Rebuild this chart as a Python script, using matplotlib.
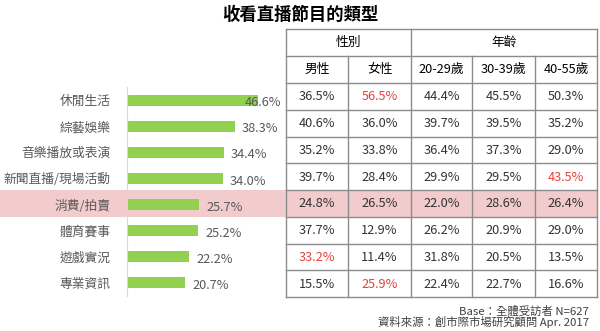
import matplotlib
matplotlib.use("Agg")
import matplotlib.pyplot as plt
from matplotlib.patches import Rectangle

plt.rcParams['font.family'] = ['Noto Sans CJK TC', 'DejaVu Sans']

# data
categories = ["休閒生活", "綜藝娛樂", "音樂播放或表演", "新聞直播/現場活動",
              "消費/拍賣", "體育賽事", "遊戲實況", "專業資訊"]
overall = [46.6, 38.3, 34.4, 34.0, 25.7, 25.2, 22.2, 20.7]
group_labels = ["性別", "年齡"]
col_labels = ["男性", "女性", "20-29歲", "30-39歲", "40-55歲"]
male = [36.5, 40.6, 35.2, 39.7, 24.8, 37.7, 33.2, 15.5]
female = [56.5, 36.0, 33.8, 28.4, 26.5, 12.9, 11.4, 25.9]
age_20_29 = [44.4, 39.7, 36.4, 29.9, 22.0, 26.2, 31.8, 22.4]
age_30_39 = [45.5, 39.5, 37.3, 29.5, 28.6, 20.9, 20.5, 22.7]
age_40_55 = [50.3, 35.2, 29.0, 43.5, 26.4, 29.0, 13.5, 16.6]
# cells shown in red: (row, col)
red_cells = [(0, 1), (3, 4), (6, 0), (7, 1)]
highlight_row = 4

W, H = 600, 331
GRAY = "#595959"
RED = "#E8403A"
GREEN = "#92D050"
PINK = "#F2CBCC"
LINE = "#8C8C8C"

fig = plt.figure(figsize=(W / 100, H / 100), dpi=100)
fig.patch.set_facecolor("white")

# overlay axes in pixel coordinates
ov = fig.add_axes([0, 0, 1, 1], zorder=0)
ov.set_xlim(0, W)
ov.set_ylim(H, 0)
ov.axis("off")

ov.text(300, 15, "收看直播節目的類型", ha="center", va="center",
        fontsize=12.5, fontweight="bold", color="black")

# table geometry
col_x = [286, 348, 411, 472, 535, 597]
row_y = [29, 56, 83, 109.8, 136.5, 163.3, 190, 216.8, 243.5, 270.3, 297]

# highlight band
ov.add_patch(Rectangle((0, row_y[2 + highlight_row]), col_x[-1],
                       row_y[3 + highlight_row] - row_y[2 + highlight_row],
                       facecolor=PINK, edgecolor="none", zorder=0))

# table grid
lw = 1.0
for y in row_y:
    x0 = col_x[0]
    ov.plot([x0, col_x[-1]], [y, y], color=LINE, lw=lw, zorder=2)
for i, x in enumerate(col_x):
    y0 = row_y[1] if i in (1, 3, 4) else row_y[0]
    ov.plot([x, x], [y0, row_y[-1]], color=LINE, lw=lw, zorder=2)

fs = 9.2
ov.text((col_x[0] + col_x[2]) / 2, (row_y[0] + row_y[1]) / 2, group_labels[0],
        ha="center", va="center", fontsize=fs, color="black")
ov.text((col_x[2] + col_x[5]) / 2, (row_y[0] + row_y[1]) / 2, group_labels[1],
        ha="center", va="center", fontsize=fs, color="black")
for j, lab in enumerate(col_labels):
    ov.text((col_x[j] + col_x[j + 1]) / 2, (row_y[1] + row_y[2]) / 2, lab,
            ha="center", va="center", fontsize=fs, color="black")

columns = [male, female, age_20_29, age_30_39, age_40_55]
for j, col in enumerate(columns):
    for i, v in enumerate(col):
        c = RED if (i, j) in red_cells else "#333333"
        ov.text((col_x[j] + col_x[j + 1]) / 2, (row_y[2 + i] + row_y[3 + i]) / 2 + 0.5,
                f"{v:.1f}%", ha="center", va="center", fontsize=fs, color=c)

# footnotes
ov.text(589, 311, "Base：全體受訪者 N=627", ha="right", va="center",
        fontsize=8.2, color="#404040")
ov.text(589, 322, "資料來源：創市際市場研究顧問 Apr. 2017", ha="right", va="center",
        fontsize=8.2, color="#404040")

# bar chart
bx0, bx1 = 127, 127 + 55 * 2.81
by_top, by_bot = 87, 296
ax = fig.add_axes([bx0 / W, 1 - by_bot / H, (bx1 - bx0) / W, (by_bot - by_top) / H],
                  zorder=1)
ax.patch.set_alpha(0)
ypos = list(range(len(categories)))
ax.barh(ypos, overall, height=0.42, color=GREEN)
ax.set_ylim(len(categories) - 0.5, -0.5)
ax.set_xlim(0, 55)
for s in ["top", "right", "bottom"]:
    ax.spines[s].set_visible(False)
ax.spines["left"].set_color("#D9D9D9")
ax.set_xticks([])
ax.set_yticks(ypos)
ax.set_yticklabels(categories, fontsize=fs, color=GRAY)
ax.tick_params(axis="y", length=0, pad=12)
for y, v in zip(ypos, overall):
    x = min(v + 2.6, 42.0)
    ax.text(x, y + 0.1, f"{v:.1f}%", ha="left", va="center", fontsize=fs,
            color=GRAY, clip_on=False)

fig.savefig("out.png", dpi=100, facecolor="white")
